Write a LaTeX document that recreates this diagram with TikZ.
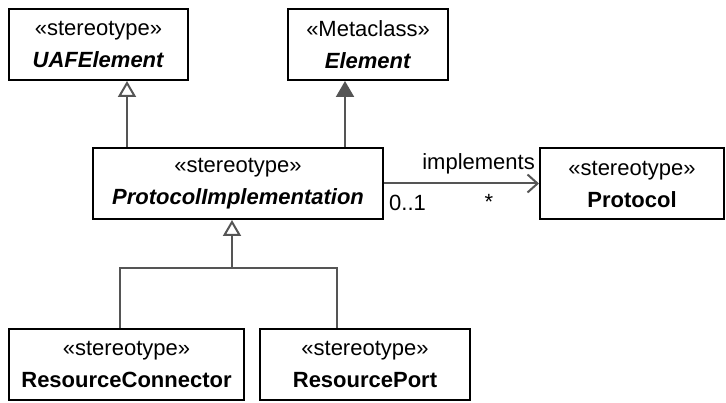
\documentclass[tikz,border=0pt]{standalone}
\usepackage{fontspec}
\setmainfont{Liberation Sans}
\usepackage{tikz}
\usetikzlibrary{arrows.meta, positioning, calc}
\definecolor{umlLine}{HTML}{555555}

\begin{document}
\begin{tikzpicture}[
  x=1pt, y=-1pt,
  cls/.style={draw=black, line width=2pt, fill=white, align=center,
              font=\fontsize{22}{32}\selectfont, minimum height=71pt,
              inner sep=0pt},
  conn/.style={line width=2pt, color=umlLine},
  gen/.style={conn, -{Triangle[open, length=16pt, width=18pt]}},
  meta/.style={conn, -{Triangle[length=16pt, width=18pt]}},
  assoc/.style={conn, -{Straight Barb[length=10pt, width=18pt, line width=2pt]}},
  lbl/.style={font=\fontsize{22}{24}\selectfont, inner sep=0pt}
]
  \useasboundingbox (0,0) rectangle (726,403);
  % Top row
  \node[cls, minimum width=179pt] (uaf) at (98.5,44.5) {«stereotype»\\\textbf{\textit{UAFElement}}};
  \node[cls, minimum width=160pt] (elem) at (368,44.5) {«Metaclass»\\\textbf{\textit{Element}}};
  % Middle row
  \node[cls, minimum width=290pt] (pimpl) at (238,183.5) {«stereotype»\\\textbf{\textit{ProtocolImplementation}}};
  \node[cls, minimum width=184pt] (proto) at (632,184) {«stereotype»\\\textbf{Protocol}};
  % Bottom row
  \node[cls, minimum width=235pt] (rconn) at (126.5,364.5) {«stereotype»\\\textbf{ResourceConnector}};
  \node[cls, minimum width=210pt] (rport) at (365,364.5) {«stereotype»\\\textbf{ResourcePort}};

  \coordinate (joint) at (232,268);

  \draw[gen] ([xshift=35pt]pimpl.north west) -- ([xshift=35pt]pimpl.north west |- uaf.south);
  \draw[meta] ([xshift=-39pt]pimpl.north east) -- ([xshift=-39pt]pimpl.north east |- elem.south);
  \draw[assoc] (pimpl.east) -- (pimpl.east -| proto.west);
  \draw[conn] ([xshift=112pt]rconn.north west) |- (joint) -| ([xshift=78pt]rport.north west);
  \draw[gen] (joint) -- (joint |- pimpl.south);

  \node[lbl, anchor=base east] (impl) at ([xshift=-4pt, yshift=14pt]proto.west) {implements};
  \node[lbl, anchor=base west] (mult) at ([xshift=5pt, yshift=-27pt]pimpl.east) {0..1};
  \node[lbl, anchor=base] (many) at ([xshift=-50pt, yshift=-26pt]proto.west) {*};
\end{tikzpicture}
\end{document}
